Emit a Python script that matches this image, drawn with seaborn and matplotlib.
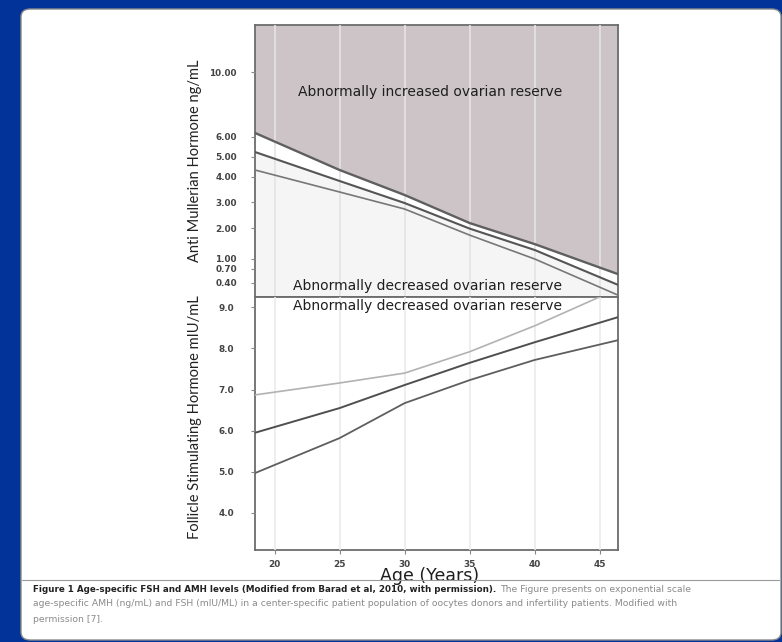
import numpy as np
import pandas as pd
import matplotlib
matplotlib.use("Agg")
import matplotlib.pyplot as plt
from matplotlib.patches import FancyBboxPatch
from matplotlib.lines import Line2D
import seaborn as sns

# ---------------- data ----------------
ages = [18.5, 25, 30, 35, 40, 46.4]

# AMH percentile curves (ng/mL)
amh_upper = [6.25, 4.35, 3.28, 2.19, 1.48, 0.59]
amh_middle = [5.25, 3.84, 2.96, 1.98, 1.29, 0.36]
amh_lower = [4.35, 3.40, 2.73, 1.77, 1.00, 0.14]

# FSH percentile curves (mIU/mL)
fsh_light = [6.87, 7.16, 7.40, 7.92, 8.55, 9.45]
fsh_middle = [5.95, 6.55, 7.11, 7.65, 8.15, 8.76]
fsh_lower = [4.97, 5.82, 6.67, 7.23, 7.72, 8.20]

age_ticks = [20, 25, 30, 35, 40, 45]
amh_ticks = [0.4, 0.7, 1.0, 2.0, 3.0, 4.0, 5.0, 6.0, 10.0]
amh_tick_labels = ["0.40", "0.70", "1.00", "2.00", "3.00", "4.00", "5.00", "6.00", "10.00"]
fsh_ticks = [4.0, 5.0, 6.0, 7.0, 8.0, 9.0]
fsh_tick_labels = ["4.0", "5.0", "6.0", "7.0", "8.0", "9.0"]

# anchor points of the stretched AMH axis (value -> relative height)
scale_values = [0.0, 0.1, 0.4, 0.7, 1.0, 2.0, 3.0, 4.0, 5.0, 6.0, 10.0, 13.0, 40.0]
scale_heights = [-5.0, 0.0, 14.0, 28.0, 38.0, 69.0, 95.0, 120.0, 140.0, 160.0, 225.0, 272.0, 690.0]


def amh_forward(v):
    return np.interp(v, scale_values, scale_heights)


def amh_inverse(p):
    return np.interp(p, scale_heights, scale_values)


W, H = 782, 642
BLUE = "#023399"


def fx(x):
    return x / W


def fy(y):
    return 1 - y / H


sns.set_theme(style="white")
plt.rcParams["font.family"] = ["DejaVu Sans"]

fig = plt.figure(figsize=(W / 100, H / 100), dpi=100, facecolor=BLUE)

# white slide panel
panel = FancyBboxPatch((fx(21), fy(640)), fx(760), 631 / H,
                       boxstyle="round,pad=0,rounding_size=0.012",
                       transform=fig.transFigure, fc="white", ec="#8a8a8a",
                       lw=1.0, zorder=0)
fig.add_artist(panel)
fig.add_artist(Line2D([fx(22), fx(779)], [fy(580), fy(580)],
                      transform=fig.transFigure, color="#9a9a9a", lw=0.8))

spine_color = "#6c6c6c"

# ---------------- AMH panel ----------------
ax1 = fig.add_axes([fx(255), fy(297), fx(363), 272 / H])
ax1.set_facecolor("#f5f5f5")
ax1.set_yscale("function", functions=(amh_forward, amh_inverse))
ax1.set_xlim(18.5, 46.4)
ax1.set_ylim(0.1, 13.0)

ax1.fill_between(ages, amh_upper, 13.0, color="#cdc4c7", lw=0, zorder=1)
ax1.fill_between(ages, amh_middle, amh_upper, color="white", lw=0, zorder=1)

amh_df = pd.DataFrame({"age": ages * 3,
                       "value": amh_upper + amh_middle + amh_lower,
                       "curve": ["upper"] * 6 + ["middle"] * 6 + ["lower"] * 6})
for name, color, lw in [("upper", "#5f5f5f", 1.7), ("middle", "#555555", 1.5),
                        ("lower", "#777777", 1.2)]:
    sub = amh_df[amh_df["curve"] == name]
    sns.lineplot(data=sub, x="age", y="value", ax=ax1, color=color, lw=lw,
                 estimator=None, errorbar=None, zorder=4)

ax1.set_xticks(age_ticks)
ax1.set_xticklabels([])
ax1.tick_params(axis="x", length=0)
ax1.set_yticks(amh_ticks)
ax1.set_yticklabels(amh_tick_labels)
ax1.yaxis.set_minor_locator(matplotlib.ticker.NullLocator())
ax1.tick_params(axis="y", left=True, length=3, width=0.8, color="#888888",
                pad=10, labelsize=6.4, labelcolor="#444444")
for lab in ax1.get_yticklabels():
    lab.set_fontweight("bold")
ax1.grid(axis="x", color="#e4e4e4", lw=1.2, zorder=2)
ax1.set_axisbelow(False)
ax1.set_xlabel("")
ax1.set_ylabel("")
for s in ax1.spines.values():
    s.set_color(spine_color)
    s.set_linewidth(1.3)

ax1.text(0.482, 0.754, "Abnormally increased ovarian reserve", transform=ax1.transAxes,
         ha="center", va="center", fontsize=10, color="#1e1e1e", zorder=5)
ax1.text(0.474, 0.040, "Abnormally decreased ovarian reserve", transform=ax1.transAxes,
         ha="center", va="center", fontsize=10, color="#1e1e1e", zorder=5)

# ---------------- FSH panel ----------------
ax2 = fig.add_axes([fx(255), fy(550), fx(363), 253 / H])
ax2.set_facecolor("white")
ax2.set_xlim(18.5, 46.4)
ax2.set_ylim(3.10, 9.25)

fsh_df = pd.DataFrame({"age": ages * 3,
                       "value": fsh_light + fsh_middle + fsh_lower,
                       "curve": ["light"] * 6 + ["middle"] * 6 + ["lower"] * 6})
for name, color, lw in [("light", "#b2b2b2", 1.2), ("middle", "#4f4f4f", 1.4),
                        ("lower", "#5e5e5e", 1.3)]:
    sub = fsh_df[fsh_df["curve"] == name]
    sns.lineplot(data=sub, x="age", y="value", ax=ax2, color=color, lw=lw,
                 estimator=None, errorbar=None, zorder=4)

ax2.set_xticks(age_ticks)
ax2.set_xticklabels([str(a) for a in age_ticks])
ax2.tick_params(axis="x", bottom=True, length=3, width=0.8, color="#888888",
                pad=4, labelsize=6.4, labelcolor="#444444")
ax2.set_yticks(fsh_ticks)
ax2.set_yticklabels(fsh_tick_labels)
ax2.tick_params(axis="y", left=True, length=3, width=0.8, color="#888888",
                pad=12, labelsize=6.4, labelcolor="#444444")
for lab in ax2.get_yticklabels() + ax2.get_xticklabels():
    lab.set_fontweight("bold")
ax2.grid(axis="x", color="#ebebeb", lw=1.2, zorder=2)
ax2.set_axisbelow(False)
ax2.set_ylabel("")
ax2.set_xlabel("Age (Years)", fontsize=12.5, color="#1e1e1e")
ax2.xaxis.set_label_coords(0.482, -0.068)
for s in ax2.spines.values():
    s.set_color(spine_color)
    s.set_linewidth(1.3)

ax2.text(0.474, 0.964, "Abnormally decreased ovarian reserve", transform=ax2.transAxes,
         ha="center", va="center", fontsize=10, color="#1e1e1e", zorder=5)

# axis titles
label_font = ["Lato", "DejaVu Sans"]
fig.text(fx(195), fy(161), "Anti Mullerian Hormone ng/mL", rotation=90,
         ha="center", va="center", fontsize=10.5, family=label_font, color="#222222")
fig.text(fx(195), fy(417), "Follicle Stimulating Hormone mIU/mL", rotation=90,
         ha="center", va="center", fontsize=10.5, family=label_font, color="#222222")

# caption
renderer = fig.canvas.get_renderer()
bold = fig.text(fx(33), fy(589), "Figure 1 Age-specific FSH and AMH levels (Modified from "
                "Barad et al, 2010, with permission).", fontsize=6.3, fontweight="bold",
                color="#222222", ha="left", va="center")
bb = bold.get_window_extent(renderer)
fig.text(bb.x1 / W + fx(4), fy(589), "The Figure presents on exponential scale",
         fontsize=6.7, color="#8a8a8a", ha="left", va="center")
fig.text(fx(33), fy(604), "age-specific AMH (ng/mL) and FSH (mIU/ML) in a center-specific "
         "patient population of oocytes donors and infertility patients. Modified with",
         fontsize=6.7, color="#8a8a8a", ha="left", va="center")
fig.text(fx(33), fy(619), "permission [7].", fontsize=6.7, color="#8a8a8a",
         ha="left", va="center")

fig.savefig("out.png", dpi=100, facecolor=BLUE)
